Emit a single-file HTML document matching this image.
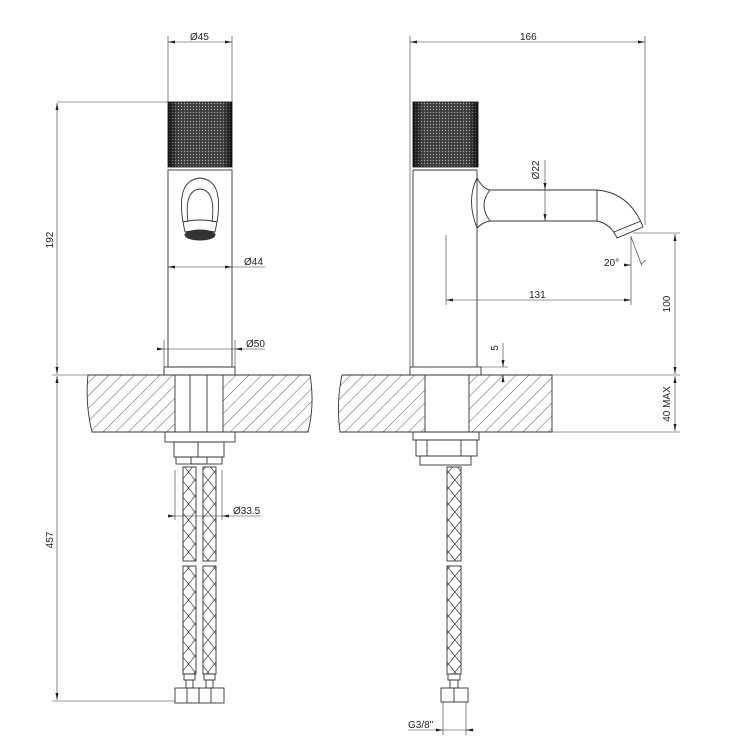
<!DOCTYPE html>
<html><head><meta charset="utf-8"><style>
html,body{margin:0;padding:0;background:#fff}
svg{display:block}
text{font-family:"Liberation Sans",sans-serif;font-size:10px;fill:#222}
</style></head><body>
<svg width="750" height="749" viewBox="0 0 750 749" xmlns="http://www.w3.org/2000/svg">
<defs>
<pattern id="h" width="9" height="9" patternUnits="userSpaceOnUse" patternTransform="rotate(45)">
<line x1="0" y1="0" x2="0" y2="9" stroke="#333" stroke-width="0.8"/>
</pattern>
<pattern id="k" width="3" height="3" patternUnits="userSpaceOnUse">
<rect width="3" height="3" fill="#3a3a3a"/><circle cx="1.5" cy="1.5" r="0.7" fill="#aaa"/>
</pattern>
<linearGradient id="kg" x1="0" x2="1" y1="0" y2="0">
<stop offset="0" stop-color="#000" stop-opacity="0.7"/><stop offset="0.15" stop-color="#000" stop-opacity="0"/>
<stop offset="0.85" stop-color="#000" stop-opacity="0"/><stop offset="1" stop-color="#000" stop-opacity="0.7"/>
</linearGradient>
<pattern id="br" width="13" height="16" patternUnits="userSpaceOnUse">
<path d="M0 0 L13 16 M13 0 L0 16" stroke="#333" stroke-width="0.7" fill="none"/>
</pattern>
<marker id="a" markerWidth="8" markerHeight="6" refX="7" refY="3" orient="auto-start-reverse" markerUnits="userSpaceOnUse">
<path d="M0 1.5 L7 3 L0 4.5 Z" fill="#222"/>
</marker>
</defs>
<g fill="none" stroke="#333" stroke-width="0.9">
<path d="M88 375 L175 375 L175 432 L92 432 Q85 404 88 375 Z" fill="url(#h)"/>
<path d="M223 375 L310 375 Q315 404 308 432 L223 432 Z" fill="url(#h)"/>
<line x1="175" y1="375" x2="223" y2="375"/>
<line x1="190" y1="375" x2="190" y2="432"/>
<line x1="207" y1="375" x2="207" y2="432"/>
<line x1="175" y1="432" x2="223" y2="432"/>
<rect x="168" y="102" width="64" height="65" fill="url(#k)" stroke="#222"/>
<rect x="168" y="102" width="64" height="65" fill="url(#kg)" stroke="none"/>
<rect x="168" y="170" width="64" height="197"/>
<rect x="164" y="367" width="71" height="8"/>
<path d="M183 222 Q176 180 200 178 Q224 180 217 222"/>
<path d="M188 222 Q184 190 200 189 Q216 190 212 222"/>
<path d="M183 222 Q200 218 217 222 L215 232 Q200 229 185 232 Z"/>
<ellipse cx="200" cy="235" rx="15" ry="5" fill="#333"/>
<rect x="165" y="432" width="70" height="10"/>
<rect x="174" y="442" width="50" height="15"/>
<line x1="198" y1="442" x2="198" y2="457"/>
<rect x="176" y="457" width="46" height="7"/>
<rect x="191" y="457" width="16" height="7"/>
<rect x="183" y="467" width="13" height="94" fill="url(#br)"/>
<rect x="203" y="467" width="13" height="94" fill="url(#br)"/>
<rect x="183" y="566" width="13" height="108" fill="url(#br)"/>
<rect x="203" y="566" width="13" height="108" fill="url(#br)"/>
<rect x="184" y="674" width="11" height="6"/><rect x="204" y="674" width="11" height="6"/>
<rect x="186" y="680" width="7" height="8"/><rect x="206" y="680" width="7" height="8"/>
<rect x="175" y="688" width="24" height="15"/><rect x="199" y="688" width="25" height="15"/>
<line x1="187" y1="688" x2="187" y2="703"/><line x1="211" y1="688" x2="211" y2="703"/>

<line x1="168" y1="36" x2="168" y2="102" stroke-width="0.6"/>
<line x1="232" y1="36" x2="232" y2="102" stroke-width="0.6"/>
<line x1="168" y1="42" x2="232" y2="42" stroke-width="0.6" marker-start="url(#a)" marker-end="url(#a)"/>
<line x1="168" y1="267" x2="232" y2="267" stroke-width="0.6" marker-start="url(#a)" marker-end="url(#a)"/>
<line x1="232" y1="267" x2="265" y2="267" stroke-width="0.6"/>
<line x1="164" y1="340" x2="164" y2="367" stroke-width="0.6"/>
<line x1="235" y1="340" x2="235" y2="367" stroke-width="0.6"/>
<line x1="157" y1="349" x2="164" y2="349" stroke-width="0.6" marker-end="url(#a)"/>
<line x1="164" y1="349" x2="235" y2="349" stroke-width="0.6"/>
<line x1="242" y1="349" x2="235" y2="349" stroke-width="0.6" marker-end="url(#a)"/>
<line x1="242" y1="349" x2="265" y2="349" stroke-width="0.6"/>
<line x1="57" y1="102" x2="168" y2="102" stroke-width="0.6"/>
<line x1="57" y1="103" x2="57" y2="374" stroke-width="0.6" marker-start="url(#a)" marker-end="url(#a)"/>
<line x1="52" y1="375" x2="88" y2="375" stroke-width="0.6"/>
<line x1="57" y1="376" x2="57" y2="700" stroke-width="0.6" marker-start="url(#a)" marker-end="url(#a)"/>
<line x1="52" y1="701" x2="175" y2="701" stroke-width="0.6"/>
<line x1="175" y1="470" x2="175" y2="520" stroke-width="0.6"/>
<line x1="222" y1="470" x2="222" y2="520" stroke-width="0.6"/>
<line x1="168" y1="516" x2="175" y2="516" stroke-width="0.6" marker-end="url(#a)"/>
<line x1="175" y1="516" x2="222" y2="516" stroke-width="0.6"/>
<line x1="229" y1="516" x2="222" y2="516" stroke-width="0.6" marker-end="url(#a)"/>
<line x1="229" y1="516" x2="261" y2="516" stroke-width="0.6"/>

<path d="M342 375 L425 375 L425 432 L340 432 Q336 404 342 375 Z" fill="url(#h)"/>
<path d="M469 375 L552 375 L552 432 L469 432 Z" fill="url(#h)"/>
<line x1="425" y1="375" x2="469" y2="375"/>
<line x1="425" y1="432" x2="469" y2="432"/>
<rect x="413" y="102" width="65" height="65" fill="url(#k)" stroke="#222"/>
<rect x="413" y="102" width="65" height="65" fill="url(#kg)" stroke="none"/>
<line x1="413" y1="170" x2="413" y2="367"/>
<line x1="477" y1="170" x2="477" y2="367"/>
<line x1="413" y1="170" x2="477" y2="170"/>
<rect x="410" y="367" width="71" height="8"/>
<path d="M477 178 Q466 200 477 228"/>
<path d="M477 178 Q483 189 490 190 L597 190 Q630 193 643 227 L617 238 Q611 224 597 221 L490 221 Q483 222 477 228"/>
<path d="M490 190 Q478 205 490 221"/>
<line x1="597" y1="190" x2="597" y2="221"/>
<line x1="614" y1="232" x2="641" y2="221"/>
<rect x="413" y="432" width="66" height="8"/>
<rect x="416" y="440" width="61" height="16"/>
<line x1="427" y1="440" x2="427" y2="456"/><line x1="461" y1="440" x2="461" y2="456"/>
<rect x="420" y="456" width="51" height="9"/>
<rect x="447" y="467" width="14" height="94" fill="url(#br)"/>
<rect x="447" y="566" width="14" height="108" fill="url(#br)"/>
<rect x="448" y="674" width="12" height="6"/>
<rect x="450" y="680" width="8" height="8"/>
<rect x="441" y="688" width="27" height="14"/>
<line x1="454" y1="688" x2="454" y2="702"/>
<line x1="410" y1="36" x2="410" y2="367" stroke-width="0.6"/>
<line x1="645" y1="36" x2="645" y2="225" stroke-width="0.6"/>
<line x1="410" y1="42" x2="645" y2="42" stroke-width="0.6" marker-start="url(#a)" marker-end="url(#a)"/>
<line x1="545" y1="160" x2="545" y2="190" stroke-width="0.6" marker-end="url(#a)"/>
<line x1="545" y1="190" x2="545" y2="221" stroke-width="0.6" marker-end="url(#a)"/>
<line x1="446" y1="235" x2="446" y2="305" stroke-width="0.6"/>
<line x1="631" y1="236" x2="631" y2="305" stroke-width="0.6"/>
<line x1="446" y1="300" x2="631" y2="300" stroke-width="0.6" marker-start="url(#a)" marker-end="url(#a)"/>
<line x1="631" y1="237" x2="642" y2="266" stroke-width="0.6"/>
<line x1="624" y1="265" x2="631" y2="265" stroke-width="0.6" marker-end="url(#a)"/>
<line x1="641" y1="264" x2="646" y2="260" stroke-width="0.6"/>
<line x1="633" y1="233" x2="680" y2="233" stroke-width="0.6"/>
<line x1="675" y1="234" x2="675" y2="374" stroke-width="0.6" marker-start="url(#a)" marker-end="url(#a)"/>
<line x1="552" y1="375" x2="680" y2="375" stroke-width="0.6"/>
<line x1="675" y1="376" x2="675" y2="431" stroke-width="0.6" marker-start="url(#a)" marker-end="url(#a)"/>
<line x1="552" y1="432" x2="680" y2="432" stroke-width="0.6"/>
<line x1="481" y1="367" x2="508" y2="367" stroke-width="0.6"/>
<line x1="503" y1="343" x2="503" y2="367" stroke-width="0.6" marker-end="url(#a)"/>
<line x1="503" y1="383" x2="503" y2="375" stroke-width="0.6" marker-end="url(#a)"/>
<line x1="443" y1="702" x2="443" y2="735" stroke-width="0.6"/>
<line x1="466" y1="702" x2="466" y2="735" stroke-width="0.6"/>
<line x1="435" y1="730" x2="443" y2="730" stroke-width="0.6" marker-end="url(#a)"/>
<line x1="443" y1="730" x2="466" y2="730" stroke-width="0.6"/>
<line x1="474" y1="730" x2="466" y2="730" stroke-width="0.6" marker-end="url(#a)"/>
<line x1="408" y1="730" x2="435" y2="730" stroke-width="0.6"/>
</g>
<text x="190" y="40">Ø45</text>
<text x="244" y="265">Ø44</text>
<text x="246" y="347">Ø50</text>
<text x="233" y="514">Ø33.5</text>
<text x="56" y="240" transform="rotate(-90 56 240)" text-anchor="middle" dy="-3">192</text>
<text x="56" y="540" transform="rotate(-90 56 540)" text-anchor="middle" dy="-3">457</text>
<text x="520" y="40">166</text>
<text x="542" y="170" transform="rotate(-90 542 170)" text-anchor="middle" dy="-3">Ø22</text>
<text x="529" y="298">131</text>
<text x="604" y="266">20°</text>
<text x="673" y="304" transform="rotate(-90 673 304)" text-anchor="middle" dy="-3">100</text>
<text x="673" y="404" transform="rotate(-90 673 404)" text-anchor="middle" dy="-3">40 MAX</text>
<text x="501" y="348" transform="rotate(-90 501 348)" text-anchor="middle" dy="-3">5</text>
<text x="408" y="728">G3/8"</text>
</svg>
</body></html>
